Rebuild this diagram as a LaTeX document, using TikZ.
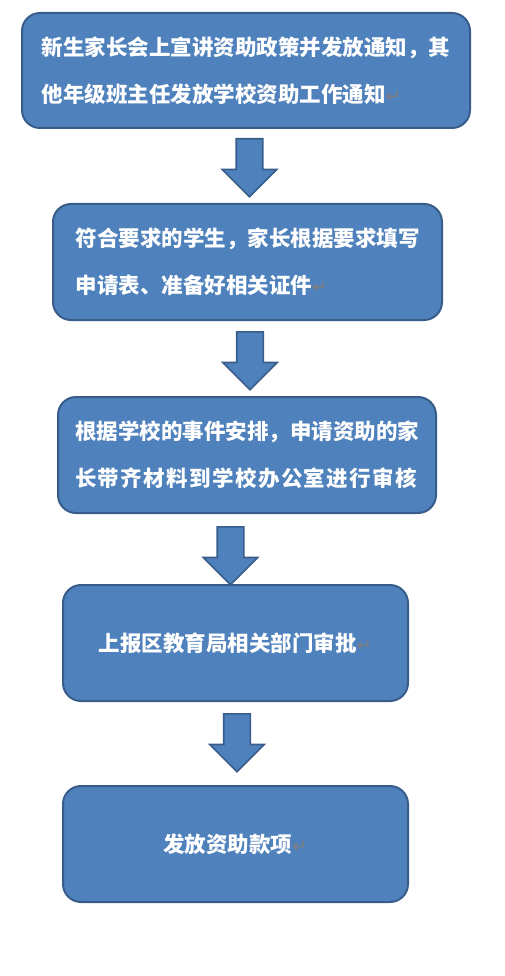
\documentclass[tikz,border=0pt]{standalone}
\usepackage{fontspec}
\newfontfamily\cjkbold{Noto Sans CJK SC Black}
\newfontfamily\symfont{DejaVu Sans}
\usetikzlibrary{shapes.arrows}
\definecolor{boxblue}{HTML}{4F81BD}
\definecolor{boxline}{HTML}{385D8A}
\definecolor{markgray}{HTML}{7F7F7F}
\newcommand{\retmark}{{\symfont\fontsize{18}{18}\selectfont\textcolor{markgray}{↵}}}
\tikzset{
	stepbox/.style={draw=boxline,fill=boxblue,line width=2pt,rounded corners=18pt,text=white,font=\cjkbold\fontsize{21.5}{47}\selectfont,align=left,minimum height=116pt,inner sep=0pt},
	downarrow/.style={single arrow,draw=boxline,fill=boxblue,line width=1.6pt,rotate=-90,anchor=tail,minimum height=58pt,inner xsep=0pt,inner ysep=12.5pt,single arrow head extend=14pt}
}
\begin{document}
\begin{tikzpicture}[x=1pt,y=-1pt]
	\useasboundingbox (0,0) rectangle (504,976);

	\node[stepbox,minimum width=448pt,minimum height=115pt] (b1) at (246,70.5) {新生家长会上宣讲资助政策并发放通知，其\\他年级班主任发放学校资助工作通知\retmark};
	\node[stepbox,minimum width=389pt] (b2) at (247.5,262) {符合要求的学生，家长根据要求填写\\申请表、准备好相关证件\retmark};
	\node[stepbox,minimum width=378pt] (b3) at (247,455) {根据学校的事件安排，申请资助的家\\{\addfontfeature{LetterSpace=6.5}长带齐材料到学校办公室进行审核}};
	\node[stepbox,minimum width=345pt] (b4) at (235.5,643) {上报区教育局相关部门审批\retmark};
	\node[stepbox,minimum width=345pt] (b5) at (235.5,844) {发放资助款项\retmark};

	\node[downarrow] (a1) at (249.5,138) {};
	\node[downarrow] (a2) at (250,331) {};
	\node[downarrow] (a3) at (230.5,526) {};
	\node[downarrow] (a4) at (237,713) {};
\end{tikzpicture}
\end{document}
